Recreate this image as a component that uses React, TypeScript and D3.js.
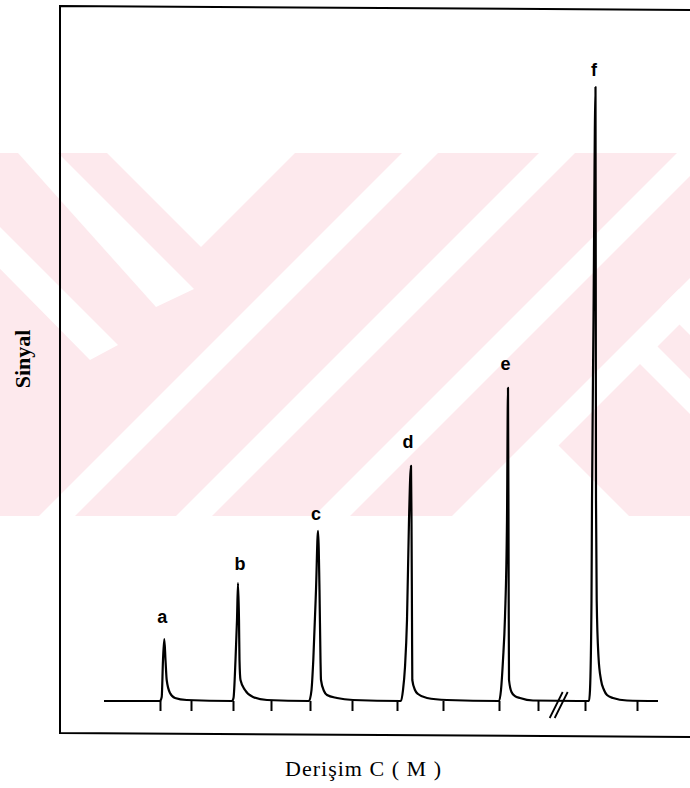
import React, { useEffect, useRef } from 'react';
import * as d3 from 'd3';

// ---- data ----
const peakLabels = ['a', 'b', 'c', 'd', 'e', 'f'];
const peakTimes = [20.86, 35.6, 51.6, 70.2, 89.6, 107.1];
const peakSignals = [10.1, 19.2, 27.7, 38.3, 51, 100];

const traceTime = [
  8.8, 20, 20.34, 20.6, 20.86, 21.1, 21.34, 22, 23, 25.34,
  34.4, 34.7, 35.1, 35.4, 35.6, 35.8, 35.9, 36.1, 37, 38.6, 41.4,
  49.8, 50.3, 50.66, 51.2, 51.6, 51.9, 52.1, 52.2, 52.8, 53.4, 55.4, 58.6,
  68.2, 68.6, 69, 69.4, 69.8, 70.2, 70.3, 70.4, 70.46, 71, 71.6, 73.4, 77.4,
  87.8, 88.2, 88.6, 89, 89.4, 89.6, 89.7, 89.74, 89.8, 90.3, 91, 92, 94.6,
  105.8, 106, 106.3, 106.4, 106.7, 107.1, 107.16, 107.2, 107.34, 107.7, 108.2, 108.8, 109.4, 110.6, 113.4, 119.6,
];
const traceSignal = [
  0, 0, 0.65, 6.68, 10.1, 6.68, 3.42, 1.3, 0.49, 0.16,
  0, 0.49, 6.68, 13.2, 19.2, 13.2, 6.68, 3.42, 1.79, 0.65, 0.16,
  0, 1.79, 6.68, 18.1, 27.7, 18.1, 6.68, 3.42, 1.63, 0.98, 0.49, 0.16,
  0, 1.79, 5.54, 13.2, 29.5, 38.3, 29.5, 13.2, 3.42, 1.79, 1.14, 0.49, 0.16,
  0, 1.79, 6.68, 13.7, 29.5, 51, 29.5, 16.4, 3.42, 1.47, 0.81, 0.49, 0.08,
  0, 1.79, 16.4, 32.7, 62.1, 100, 62.1, 32.7, 16.4, 7.17, 3.42, 1.79, 0.98, 0.49, 0.08, 0,
];

const tickTimes = [20, 26.2, 34.6, 42.2, 50, 58.4, 67.4, 76.6, 87.8, 95.6, 105, 115.4];
const axisBreakTime = 99.74;
const xTitle = 'Derişim C ( M )';
const yTitle = 'Sinyal';

// label placement tweaks (px)
const labelDx = [-2, 2, -2, -3, -2.5, -1.5];
const labelDy = [16.3, 13, 11, 18, 17.5, 11];

const W = 690;
const H = 788;
const PINK = '#fde9ed';

export default function App() {
  const axisRef = useRef<SVGGElement>(null);

  const x = d3.scaleLinear().domain([0, 126]).range([60, 690]);
  const y = d3.scaleLinear().domain([0, 100]).range([701, 87]);

  const idx = d3.range(traceTime.length);
  const line = d3
    .line<number>()
    .x((i) => x(traceTime[i]))
    .y((i) => y(traceSignal[i]))
    .curve(d3.curveMonotoneX);

  useEffect(() => {
    if (!axisRef.current) return;
    const g = d3.select(axisRef.current);
    g.selectAll('*').remove();
    g.call(d3.axisBottom(x).tickValues(tickTimes).tickSize(10).tickFormat(() => ''));
    g.select('.domain').remove();
    g.selectAll('.tick line').attr('stroke', '#000').attr('stroke-width', 2);
  }, []);

  const bx = x(axisBreakTime);
  const by = y(0);

  // watermark stripes (decorative)
  const slashStripes = [555, 692, 830, 968];
  const stripeW = 36;

  return (
    <svg
      width={W}
      height={H}
      style={{ position: 'absolute', left: 0, top: 0, background: '#fff' }}
    >
      <defs>
        <clipPath id="wm">
          <rect x={0} y={153} width={690} height={363} />
        </clipPath>
      </defs>
      <rect x={0} y={0} width={W} height={H} fill="#fff" />
      <g clipPath="url(#wm)">
        <rect x={0} y={153} width={690} height={363} fill={PINK} />
        {slashStripes.map((c) => (
          <polygon
            key={c}
            fill="#fff"
            points={`${c - 153},153 ${c + stripeW - 153},153 ${c + stripeW - 516},516 ${c - 516},516`}
          />
        ))}
        <polygon fill="#fff" points="18,153 58,153 194,289 156,307" />
        <polygon fill="#fff" points="-114,153 -74,153 118,345 90,360" />
        <polygon fill="#fff" points="107,153 295,153 201,247" />
        <polygon fill="#fff" points="553,440 629,516 477,516" />
        <polygon fill="#fff" points="626,350 643.5,332.5 827,516 792,516" />
        <polygon fill="#fff" points="661.5,306.5 679,289 906,516 871,516" />
      </g>

      {/* frame */}
      <path
        d="M690,10 L60,6 L60,733 L690,737"
        fill="none"
        stroke="#000"
        strokeWidth={2}
      />

      {/* signal trace */}
      <path d={line(idx) || ''} fill="none" stroke="#000" strokeWidth={2.2} strokeLinejoin="round" />

      {/* ticks */}
      <g ref={axisRef} transform={`translate(0,${y(0)})`} />

      {/* axis break */}
      <line x1={bx - 9} y1={by + 17} x2={bx + 4} y2={by - 9} stroke="#000" strokeWidth={1.8} />
      <line x1={bx - 4} y1={by + 17} x2={bx + 9} y2={by - 9} stroke="#000" strokeWidth={1.8} />

      {/* peak labels */}
      {peakLabels.map((l, i) => (
        <text
          key={l}
          x={x(peakTimes[i]) + labelDx[i]}
          y={y(peakSignals[i]) - labelDy[i]}
          textAnchor="middle"
          fontFamily="'Liberation Sans', Arial, sans-serif"
          fontWeight="bold"
          fontSize={18}
          fill="#000"
        >
          {l}
        </text>
      ))}

      {/* axis titles */}
      <text
        x={0}
        y={0}
        transform="translate(30,359) rotate(-90)"
        textAnchor="middle"
        fontFamily="'Liberation Serif', 'Times New Roman', serif"
        fontWeight="bold"
        fontSize={22}
        fill="#000"
      >
        {yTitle}
      </text>
      <text
        x={363}
        y={776}
        textAnchor="middle"
        textLength={156}
        lengthAdjust="spacing"
        fontFamily="'Liberation Serif', 'Times New Roman', serif"
        fontSize={22}
        fill="#000"
      >
        {xTitle}
      </text>
    </svg>
  );
}
